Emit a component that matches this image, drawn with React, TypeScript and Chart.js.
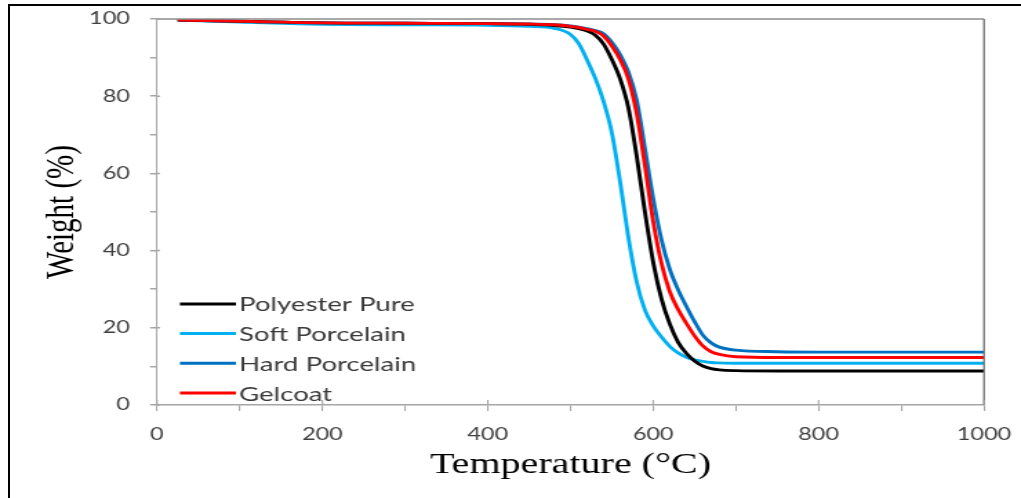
import React, { useEffect, useRef } from "react";
import { Chart, registerables } from "chart.js";

Chart.register(...registerables);

// ---- data ----
const temperatures = [25, 100, 200, 300, 400, 450, 480, 500, 510, 520, 530, 540, 550, 560, 570, 580, 590, 600, 610, 620, 630, 640, 650, 660, 670, 680, 700, 750, 800, 900, 1000];

const polyesterPure = [99.7, 99.4, 99.0, 98.9, 98.8, 98.6, 98.3, 97.9, 97.5, 96.9, 95.8, 93.5, 89.5, 84.5, 77.0, 64.5, 50.0, 37.0, 27.5, 21.0, 16.3, 13.4, 11.4, 10.1, 9.4, 9.1, 8.9, 8.8, 8.8, 8.8, 8.8];
const softPorcelain = [99.7, 99.2, 98.6, 98.5, 98.4, 98.1, 97.6, 96.0, 93.6, 89.4, 84.6, 78.6, 70.5, 57.8, 43.4, 31.9, 24.6, 20.5, 17.6, 15.2, 13.5, 12.4, 11.7, 11.3, 11.0, 10.9, 10.8, 10.8, 10.8, 10.8, 10.8];
const hardPorcelain = [99.7, 99.4, 99.0, 98.9, 98.8, 98.7, 98.5, 98.2, 97.9, 97.5, 97.0, 96.2, 94.0, 90.8, 86.3, 79.0, 66.5, 53.5, 42.8, 35.2, 29.9, 25.6, 21.6, 18.1, 16.1, 15.0, 14.2, 13.8, 13.7, 13.7, 13.7];
const gelcoat = [99.7, 99.4, 99.0, 98.9, 98.8, 98.7, 98.5, 98.1, 97.8, 97.3, 96.8, 95.6, 93.0, 89.5, 84.5, 75.5, 62.0, 47.5, 36.7, 29.4, 24.8, 21.2, 17.9, 15.3, 13.8, 13.1, 12.5, 12.3, 12.3, 12.3, 12.3];

const seriesLabels = ["Polyester Pure", "Soft Porcelain", "Hard Porcelain", "Gelcoat"];
const seriesValues = [polyesterPure, softPorcelain, hardPorcelain, gelcoat];
const seriesColors = ["#000000", "#00B0F0", "#0070C0", "#FF0000"];
const seriesDrawOrder = [1, 2, 3, 0];

const xTitle = "Temperature (°C)";
const yTitle = "Weight (%)";
const xMajorTicks = [0, 200, 400, 600, 800, 1000];
const yMajorTicks = [0, 20, 40, 60, 80, 100];

// ---- layout (internal canvas is stretched horizontally to 1021px) ----
const OUT_W = 1021;
const OUT_H = 498;
const INT_W = 740;
const SX = OUT_W / INT_W;

const AXIS_GRAY = "#a6a6a6";
const TICK_FONT = { family: "Lato, 'Open Sans', sans-serif", size: 17 };
const TITLE_FONT = { family: "'Liberation Serif', 'Times New Roman', serif", size: 29 };

const framePlugin = {
  id: "frameAndTicks",
  afterDatasetsDraw(chart: any) {
    const { ctx, chartArea: ca, scales } = chart;
    ctx.save();
    // top border
    ctx.strokeStyle = "#8c8c8c";
    ctx.lineWidth = 1.5;
    ctx.beginPath();
    ctx.moveTo(ca.left, ca.top);
    ctx.lineTo(ca.right, ca.top);
    ctx.stroke();
    // right border
    ctx.strokeStyle = "#5f5f5f";
    ctx.lineWidth = 1.6 / SX;
    ctx.beginPath();
    ctx.moveTo(ca.right, ca.top);
    ctx.lineTo(ca.right, ca.bottom);
    ctx.stroke();
    // major ticks crossing into the plot
    ctx.strokeStyle = AXIS_GRAY;
    ctx.lineWidth = 1.5;
    ctx.beginPath();
    for (const v of yMajorTicks) {
      const py = scales.y.getPixelForValue(v);
      ctx.moveTo(ca.left, py);
      ctx.lineTo(ca.left + 3 / SX, py);
    }
    ctx.stroke();
    ctx.lineWidth = 1.5 / SX;
    ctx.beginPath();
    for (const v of xMajorTicks) {
      const px = scales.x.getPixelForValue(v);
      ctx.moveTo(px, ca.bottom);
      ctx.lineTo(px, ca.bottom - 5);
    }
    ctx.stroke();
    ctx.restore();
  },
};

const legendPlugin = {
  id: "insideLegend",
  afterDraw(chart: any) {
    const { ctx, chartArea: ca } = chart;
    const n = chart.data.datasets.length;
    ctx.save();
    chart.data.datasets.forEach((ds: any, i: number) => {
      const y = ca.bottom - 12 - (n - 1 - i) * 29.7;
      ctx.strokeStyle = ds.borderColor;
      ctx.lineWidth = 3;
      ctx.beginPath();
      ctx.moveTo(ca.left + 16.6, y);
      ctx.lineTo(ca.left + 57.2, y);
      ctx.stroke();
      ctx.fillStyle = "#3a3a3a";
      ctx.font = "20px Lato, 'Open Sans', sans-serif";
      ctx.textAlign = "left";
      ctx.textBaseline = "alphabetic";
      ctx.fillText(ds.label, ca.left + 59.5, y + 7.5);
    });
    ctx.restore();
  },
};

export default function App() {
  const canvasRef = useRef<HTMLCanvasElement | null>(null);

  useEffect(() => {
    const canvas = canvasRef.current;
    if (!canvas) return;
    const datasets = seriesLabels.map((label, i) => ({
      label,
      data: temperatures.map((t, k) => ({ x: t, y: seriesValues[i][k] })),
      borderColor: seriesColors[i],
      backgroundColor: seriesColors[i],
      borderWidth: 2.9,
      pointRadius: 0,
      fill: false,
      cubicInterpolationMode: "monotone" as const,
      order: seriesDrawOrder[i],
    }));

    const chart = new Chart(canvas, {
      type: "line",
      data: { datasets },
      options: {
        responsive: false,
        maintainAspectRatio: false,
        animation: false,
        devicePixelRatio: 1,
        layout: { padding: { top: 19, right: INT_W - 984 / SX, bottom: 0, left: 0 } },
        plugins: { legend: { display: false }, tooltip: { enabled: false } },
        scales: {
          x: {
            type: "linear",
            min: 0,
            max: 1000,
            ticks: {
              stepSize: 100,
              autoSkip: false,
              maxRotation: 0,
              padding: 13,
              color: "#404040",
              font: TICK_FONT,
              callback: (v: any) => (Number(v) % 200 === 0 ? String(v) : ""),
            },
            grid: { drawOnChartArea: false, drawTicks: true, tickLength: 6, color: AXIS_GRAY, lineWidth: 1.5 / SX },
            border: { color: AXIS_GRAY, width: 1.5 },
            title: { display: true, text: xTitle, color: "#000", font: TITLE_FONT, padding: { top: 0, bottom: 15 } },
            afterFit: (s: any) => {
              s.height = OUT_H - 405;
              s.paddingLeft = 0;
              s.paddingRight = 0;
            },
          },
          y: {
            type: "linear",
            min: 0,
            max: 100,
            ticks: {
              stepSize: 10,
              autoSkip: false,
              padding: 14.6,
              color: "#404040",
              font: TICK_FONT,
              callback: (v: any) => (Number(v) % 20 === 0 ? String(v) : ""),
            },
            grid: { drawOnChartArea: false, drawTicks: true, tickLength: 5, color: AXIS_GRAY, lineWidth: 1.5 },
            border: { color: AXIS_GRAY, width: 1.5 / SX },
            title: { display: true, text: yTitle, color: "#000", font: TITLE_FONT, padding: { top: 28, bottom: 0 } },
            afterFit: (s: any) => {
              s.width = 157 / SX;
              s.paddingTop = 0;
              s.paddingBottom = 0;
            },
          },
        },
      },
      plugins: [framePlugin, legendPlugin],
    });
    return () => chart.destroy();
  }, []);

  return (
    <div style={{ position: "fixed", left: 0, top: 0, width: OUT_W, height: OUT_H, background: "#fff", overflow: "hidden" }}>
      <canvas
        ref={canvasRef}
        width={INT_W}
        height={OUT_H}
        style={{ position: "absolute", left: 0, top: 0, width: OUT_W + "px", height: OUT_H + "px" }}
      />
      <div
        style={{
          position: "absolute",
          left: 8,
          top: 4,
          right: -10,
          bottom: -10,
          borderLeft: "2px solid #000",
          borderTop: "2px solid #000",
          pointerEvents: "none",
        }}
      />
    </div>
  );
}
